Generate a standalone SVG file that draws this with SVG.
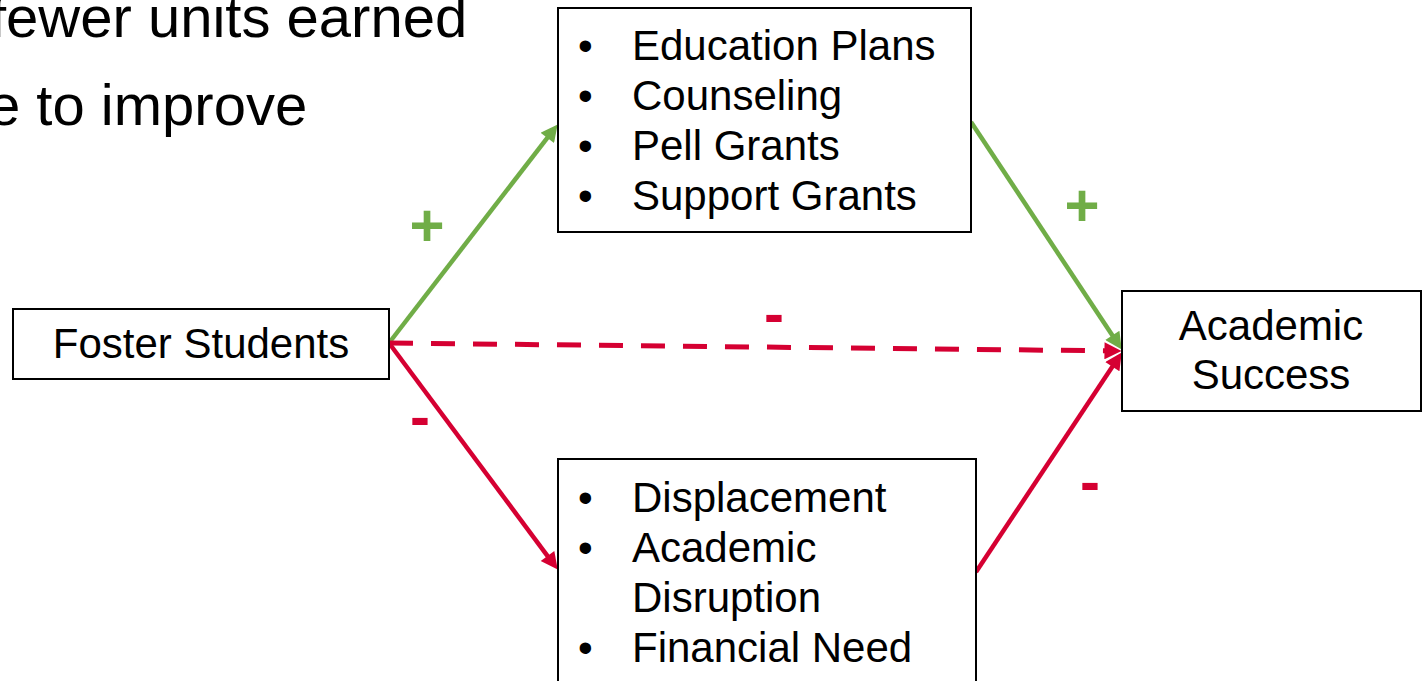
<svg xmlns="http://www.w3.org/2000/svg" width="1424" height="681" viewBox="0 0 1424 681">
<style>
text{font-family:"Liberation Sans",Arial,sans-serif;fill:#000}
.box{fill:#fff;stroke:#000;stroke-width:2}
.t42{font-size:42px}
.bg{font-size:58px}
.sign{font-size:60px;font-weight:bold;text-anchor:middle}
.g{fill:#70AD47}
.r{fill:#D50032}
.lg{stroke:#70AD47;stroke-width:4.5;fill:none}
.lr{stroke:#D50032;stroke-width:4.5;fill:none}
.ld{stroke:#D50032;stroke-width:5;fill:none;stroke-dasharray:24 18}
</style>
<defs>
<marker id="ag" viewBox="0 0 10 10" refX="5.6" refY="5" markerUnits="userSpaceOnUse" markerWidth="19" markerHeight="17" orient="auto"><path d="M0,0 L10,5 L0,10 z" fill="#70AD47"/></marker>
<marker id="ar" viewBox="0 0 10 10" refX="5.6" refY="5" markerUnits="userSpaceOnUse" markerWidth="19" markerHeight="17" orient="auto"><path d="M0,0 L10,5 L0,10 z" fill="#D50032"/></marker>
</defs>
<rect width="1424" height="681" fill="#fff"/>
<g id="bg-text">
<text class="bg" x="-10" y="37">fewer units earned</text>
<text class="bg" x="-12" y="125">e to improve</text>
</g>
<g id="connectors">
<line class="lg" x1="389" y1="343" x2="553.1" y2="130.3" marker-end="url(#ag)"/>
<line class="lg" x1="971" y1="122" x2="1117.6" y2="343.3" marker-end="url(#ag)"/>
<line class="ld" x1="389" y1="343" x2="1114" y2="350.9" marker-end="url(#ar)"/>
<line class="lr" x1="389" y1="343" x2="553.2" y2="563.6" marker-end="url(#ar)"/>
<line class="lr" x1="976" y1="572" x2="1117.6" y2="358.7" marker-end="url(#ar)"/>
</g>
<g id="labels">
<text class="sign g" x="427" y="246">+</text>
<text class="sign r" x="420" y="437">-</text>
<text class="sign r" x="774" y="334">-</text>
<text class="sign g" x="1082" y="226">+</text>
<text class="sign r" x="1090" y="502">-</text>
</g>
<g id="foster">
<rect class="box" x="13" y="309" width="376" height="70"/>
<text class="t42" x="201" y="358" text-anchor="middle">Foster Students</text>
</g>
<g id="supports">
<rect class="box" x="558" y="8" width="413" height="224"/>
<text class="t42" x="578" y="60">•</text><text class="t42" x="632" y="60">Education Plans</text>
<text class="t42" x="578" y="110">•</text><text class="t42" x="632" y="110">Counseling</text>
<text class="t42" x="578" y="160">•</text><text class="t42" x="632" y="160">Pell Grants</text>
<text class="t42" x="578" y="210">•</text><text class="t42" x="632" y="210">Support Grants</text>
</g>
<g id="barriers">
<rect class="box" x="558" y="459" width="418" height="240"/>
<text class="t42" x="578" y="512">•</text><text class="t42" x="632" y="512">Displacement</text>
<text class="t42" x="578" y="562">•</text><text class="t42" x="632" y="562">Academic</text>
<text class="t42" x="632" y="612">Disruption</text>
<text class="t42" x="578" y="662">•</text><text class="t42" x="632" y="662">Financial Need</text>
</g>
<g id="success">
<rect class="box" x="1122" y="291" width="299" height="120"/>
<text class="t42" x="1271" y="340" text-anchor="middle">Academic</text>
<text class="t42" x="1271" y="389" text-anchor="middle">Success</text>
</g>
</svg>
